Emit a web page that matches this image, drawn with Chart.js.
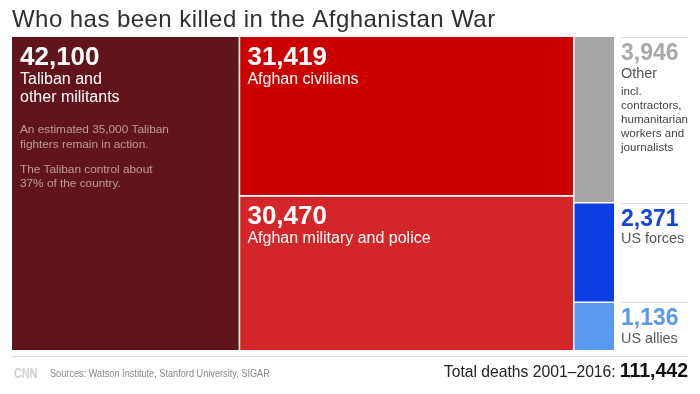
<!DOCTYPE html>
<html>
<head>
<meta charset="utf-8">
<script src="https://cdn.jsdelivr.net/npm/chart.js@4.4.1/dist/chart.umd.min.js"></script>
<style>
html,body{margin:0;padding:0;background:#ffffff;}
#wrap{width:700px;height:394px;position:relative;}
canvas{display:block;}
</style>
</head>
<body>
<div id="wrap"><canvas id="c" width="700" height="394"></canvas></div>
<script>
// ---------- DATA ----------
const titleText = 'Who has been killed in the Afghanistan War';
const categories = ['Taliban and other militants', 'Afghan civilians', 'Afghan military and police', 'Other', 'US forces', 'US allies'];
const deaths = [42100, 31419, 30470, 3946, 2371, 1136];
const columns = [
  ['Taliban and other militants'],
  ['Afghan civilians', 'Afghan military and police'],
  ['Other', 'US forces', 'US allies']
];
const labelLines = [['Taliban and', 'other militants'], ['Afghan civilians'], ['Afghan military and police'], ['Other'], ['US forces'], ['US allies']];
const notes = [
  ['An estimated 35,000 Taliban', 'fighters remain in action.', '', 'The Taliban control about', '37% of the country.'],
  [], [],
  ['incl.', 'contractors,', 'humanitarian', 'workers and', 'journalists'],
  [], []
];
const sourceText = 'Sources: Watson Institute, Stanford University, SIGAR';
const logoText = 'CNN';
const totalText = 'Total deaths 2001\u20132016:';

// ---------- STYLE ----------
const fillColors = ['#62141d', '#cc0000', '#d42529', '#a6a6a6', '#0b3ee4', '#5897f2'];
const outsideNumColors = ['#a9a9a9', '#a9a9a9', '#a9a9a9', '#a9a9a9', '#1744dc', '#5b99ef'];
const SANS = '"Liberation Sans", Arial, Helvetica, sans-serif';

// ---------- LAYOUT FROM VALUES ----------
const fmt = v => v.toLocaleString('en-US');
const total = deaths.reduce((a, b) => a + b, 0);
const rects = [];
const separators = [];
let xCursor = 0;
columns.forEach((col, c) => {
  const idx = col.map(n => categories.indexOf(n));
  const colSum = idx.reduce((s, i) => s + deaths[i], 0);
  let yCursor = 1;
  idx.forEach((i, k) => {
    const h = deaths[i] / colSum;
    rects[i] = { x0: xCursor, x1: xCursor + colSum, yTop: yCursor, yBot: yCursor - h, col: c };
    yCursor -= h;
    if (k < idx.length - 1) separators.push([{ x: xCursor, y: yCursor }, { x: xCursor + colSum, y: yCursor }]);
  });
  xCursor += colSum;
  if (c < columns.length - 1) separators.push([{ x: xCursor, y: 0 }, { x: xCursor, y: 1 }]);
});

const datasets = [];
separators.forEach(pts => datasets.push({
  data: pts, borderColor: '#ffffff', borderWidth: 1.6, fill: false,
  pointRadius: 0, tension: 0, order: 0
}));
rects.forEach((r, i) => datasets.push({
  label: categories[i],
  data: [{ x: r.x0, y: r.yTop }, { x: r.x1, y: r.yTop }],
  fill: { value: r.yBot },
  backgroundColor: fillColors[i],
  borderColor: 'rgba(0,0,0,0)', borderWidth: 0,
  pointRadius: 0, tension: 0, order: 1
}));

// draw text squeezed horizontally (condensed look)
function squeezed(ctx, text, x, y, sx) {
  ctx.save();
  ctx.translate(x, y);
  ctx.scale(sx, 1);
  ctx.fillText(text, 0, 0);
  ctx.restore();
}

// ---------- TEXT PLUGIN ----------
const textPlugin = {
  id: 'treemapText',
  afterDraw(chart) {
    const ctx = chart.ctx;
    const xs = chart.scales.x, ys = chart.scales.y;
    ctx.save();
    ctx.textBaseline = 'alphabetic';
    ctx.textAlign = 'left';

    // title
    ctx.font = '24px ' + SANS;
    ctx.fillStyle = '#303030';
    ctx.letterSpacing = '0.45px';
    ctx.fillText(titleText, 12, 27);
    ctx.letterSpacing = '0px';

    const rightEdge = 688;
    rects.forEach((r, i) => {
      const px0 = xs.getPixelForValue(r.x0);
      const px1 = xs.getPixelForValue(r.x1);
      const pTop = ys.getPixelForValue(r.yTop);
      if (r.col < 2) {
        const x = px0 + 8;
        ctx.fillStyle = '#ffffff';
        ctx.font = 'bold 26px ' + SANS;
        ctx.fillText(fmt(deaths[i]), x, pTop + 28);
        ctx.font = '16px ' + SANS;
        labelLines[i].forEach((t, k) => ctx.fillText(t, x, pTop + 47 + k * 18));
        ctx.font = '11.8px ' + SANS;
        ctx.fillStyle = 'rgba(255,255,255,0.55)';
        let y = pTop + 96;
        notes[i].forEach(t => {
          if (t === '') { y += 10.5; return; }
          ctx.fillText(t, x, y); y += 14.5;
        });
      } else {
        const x = px1 + 7;
        ctx.strokeStyle = '#dddddd';
        ctx.lineWidth = 1;
        ctx.beginPath();
        const ly = Math.round(pTop) + 0.5;
        ctx.moveTo(x, ly); ctx.lineTo(rightEdge, ly); ctx.stroke();
        ctx.fillStyle = outsideNumColors[i];
        ctx.font = 'bold 23px ' + SANS;
        ctx.fillText(fmt(deaths[i]), x, pTop + 23);
        ctx.fillStyle = '#555555';
        ctx.font = '14.4px ' + SANS;
        labelLines[i].forEach((t, k) => ctx.fillText(t, x, pTop + 40.5 + k * 16));
        ctx.fillStyle = '#444444';
        ctx.font = '11.6px ' + SANS;
        notes[i].forEach((t, k) => ctx.fillText(t, x, pTop + 58 + k * 14));
      }
    });

    // footer rule
    ctx.strokeStyle = '#dddddd';
    ctx.lineWidth = 1;
    ctx.beginPath();
    ctx.moveTo(12, 356.5); ctx.lineTo(rightEdge, 356.5); ctx.stroke();

    // logo + sources
    ctx.fillStyle = '#d0d0d0';
    ctx.font = 'bold 14px ' + SANS;
    ctx.letterSpacing = '-0.5px';
    squeezed(ctx, logoText, 14, 378, 0.8);
    ctx.letterSpacing = '0px';
    ctx.fillStyle = '#888888';
    ctx.font = '10.8px ' + SANS;
    squeezed(ctx, sourceText, 50, 376.5, 0.85);

    // total
    ctx.textAlign = 'right';
    ctx.fillStyle = '#111111';
    ctx.font = 'bold 19.5px ' + SANS;
    ctx.fillText(fmt(total), rightEdge, 377);
    const w = ctx.measureText(fmt(total)).width;
    ctx.fillStyle = '#222222';
    ctx.font = '15.7px ' + SANS;
    ctx.fillText(totalText, rightEdge - w - 4, 377);
    ctx.restore();
  }
};

new Chart(document.getElementById('c'), {
  type: 'line',
  data: { datasets },
  options: {
    responsive: false,
    animation: false,
    devicePixelRatio: 1,
    layout: { padding: { left: 12, right: 86, top: 37, bottom: 44 } },
    scales: {
      x: { type: 'linear', min: 0, max: total, display: false },
      y: { type: 'linear', min: 0, max: 1, display: false }
    },
    plugins: {
      legend: { display: false },
      tooltip: { enabled: false },
      title: { display: false }
    },
    elements: { line: { borderJoinStyle: 'miter' } }
  },
  plugins: [textPlugin]
});
</script>
</body>
</html>
